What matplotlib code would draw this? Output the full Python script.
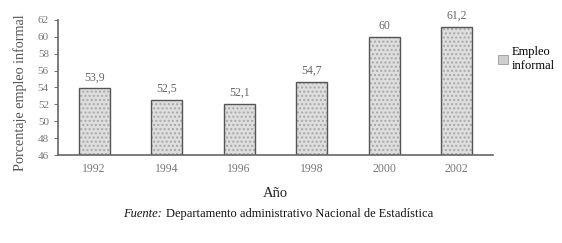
import matplotlib.pyplot as plt
from matplotlib.patches import Patch
import numpy as np

years = ['1992', '1994', '1996', '1998', '2000', '2002']
values = [53.9, 52.5, 52.1, 54.7, 60.0, 61.2]
labels = ['53,9', '52,5', '52,1', '54,7', '60', '61,2']
yticks = [46, 48, 50, 52, 54, 56, 58, 60, 62]

plt.rcParams['font.family'] = ['Liberation Serif', 'DejaVu Serif']

fig = plt.figure(figsize=(5.62, 2.43), dpi=100)
ax = fig.add_axes([0.103, 0.362, 0.774, 0.556])

x = np.arange(len(years))
# stippled fill, then a darker outline on top
ax.bar(x, values, width=0.43, color='#dedede', edgecolor='#a8a8a8',
       linewidth=0, hatch='....')
ax.bar(x, values, width=0.43, fill=False, edgecolor='#555555', linewidth=1.0)
for xi, v, t in zip(x, values, labels):
    ax.text(xi, v + 0.6, t, ha='center', va='bottom', fontsize=8.5, color='#666666')

ax.set_xlim(-0.5, len(years) - 0.5)
ax.set_ylim(46, 62)
ax.set_yticks(yticks)
ax.set_xticks(x)
ax.set_xticklabels(years, fontsize=8.5)
ax.tick_params(axis='y', labelsize=8, colors='#777777', length=3)
ax.tick_params(axis='x', colors='#777777', length=0, pad=6)
for s in ['top', 'right']:
    ax.spines[s].set_visible(False)
for s in ['left', 'bottom']:
    ax.spines[s].set_color('#666666')
    ax.spines[s].set_linewidth(1.2)

ax.set_ylabel('Porcentaje empleo informal', fontsize=10.2, color='#555555')
ax.yaxis.set_label_coords(-0.072, 0.46)
fig.text(0.49, 0.205, 'Año', ha='center', va='center', fontsize=10.5, color='#222222')
t1 = fig.text(0.219, 0.118, 'Fuente:', style='italic', ha='left', va='center',
              fontsize=9, color='#111111')
ax.annotate('Departamento administrativo Nacional de Estadística', xy=(1, 0.5),
            xycoords=t1, xytext=(3, 0), textcoords='offset points', ha='left',
            va='center', fontsize=9, color='#111111', annotation_clip=False)

handle = Patch(facecolor='#cfcfcf', edgecolor='#999999', linewidth=0.6)
ax.legend([handle], ['Empleo\ninformal'], loc='upper left', bbox_to_anchor=(0.995, 0.86),
          frameon=False, fontsize=9, handlelength=0.8, handleheight=0.8,
          handletextpad=0.3, borderaxespad=0.2)

fig.savefig('out.png', dpi=100)
